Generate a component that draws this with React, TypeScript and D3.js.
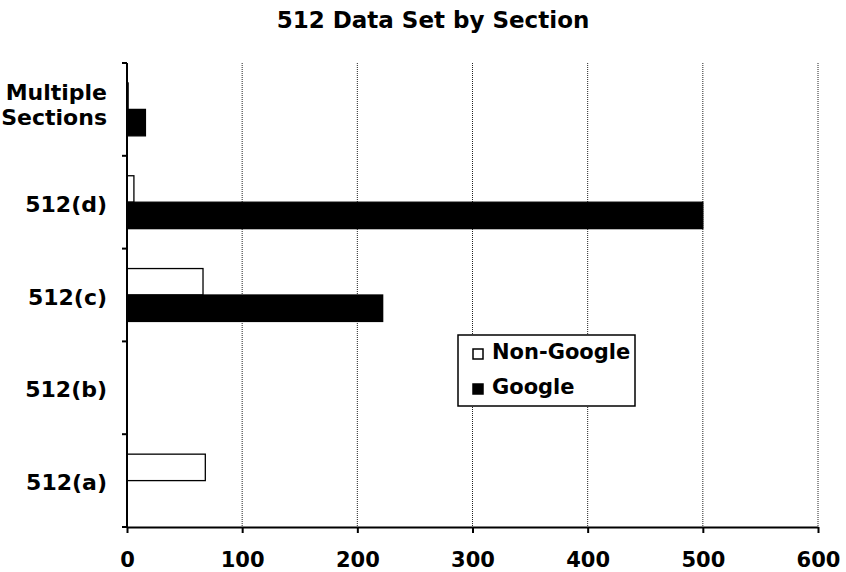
import React, { useEffect, useRef } from 'react';
import * as d3 from 'd3';

// Chart data
const categories = ['Multiple Sections', '512(d)', '512(c)', '512(b)', '512(a)'];
const categoryLines = [['Multiple', 'Sections'], ['512(d)'], ['512(c)'], ['512(b)'], ['512(a)']];
const seriesNames = ['Non-Google', 'Google'];
const nonGoogle = [1, 6, 66, 0, 68];
const google = [16, 500, 222, 0, 0];
const xTicks = [0, 100, 200, 300, 400, 500, 600];
const title = '512 Data Set by Section';

const App: React.FC = () => {
  const svgRef = useRef<SVGSVGElement | null>(null);

  useEffect(() => {
    const width = 846;
    const height = 572;
    const margin = { top: 63, right: 28, bottom: 45, left: 127 };
    const font = '"DejaVu Sans", Verdana, sans-serif';

    const svg = d3.select(svgRef.current);
    svg.selectAll('*').remove();
    svg.attr('width', width).attr('height', height);

    const x = d3.scaleLinear()
      .domain([0, 600])
      .range([margin.left, width - margin.right]);

    const y = d3.scaleBand()
      .domain(categories)
      .range([margin.top, height - margin.bottom])
      .paddingInner(0.43)
      .paddingOuter(0.215);

    const ySub = d3.scaleBand()
      .domain(seriesNames)
      .range([0, y.bandwidth()]);

    // Gridlines
    svg.append('g')
      .selectAll('line')
      .data(xTicks.slice(1))
      .enter()
      .append('line')
      .attr('x1', d => x(d))
      .attr('x2', d => x(d))
      .attr('y1', margin.top)
      .attr('y2', height - margin.bottom)
      .attr('stroke', '#222')
      .attr('stroke-width', 1)
      .attr('stroke-dasharray', '1,1');

    // Bars
    const rows = categories.map((c, i) => ({ c, values: [nonGoogle[i], google[i]] }));
    const groups = svg.append('g')
      .selectAll('g')
      .data(rows)
      .enter()
      .append('g')
      .attr('transform', d => `translate(0,${y(d.c)})`);

    groups.selectAll('rect')
      .data(d => d.values.map((v, j) => ({ v, s: seriesNames[j] })).filter(e => e.v > 0))
      .enter()
      .append('rect')
      .attr('x', x(0))
      .attr('y', d => ySub(d.s) as number)
      .attr('width', d => x(d.v) - x(0))
      .attr('height', ySub.bandwidth())
      .attr('fill', d => (d.s === 'Google' ? '#000' : '#fff'))
      .attr('stroke', '#000')
      .attr('stroke-width', 1.3);

    // X axis
    const xAxis = svg.append('g')
      .attr('transform', `translate(0,${height - margin.bottom})`)
      .call(d3.axisBottom(x).tickValues(xTicks).tickSize(6).tickSizeOuter(0));
    xAxis.select('.domain').attr('stroke', '#000').attr('stroke-width', 2);
    xAxis.selectAll('.tick line').attr('stroke', '#000').attr('stroke-width', 2);
    xAxis.selectAll('text')
      .attr('y', 40)
      .attr('dy', 0)
      .style('font-family', font)
      .style('font-weight', 'bold')
      .style('font-size', '21px')
      .attr('fill', '#000');

    // Y axis line and boundary ticks
    const yAxis = svg.append('g');
    yAxis.append('line')
      .attr('x1', x(0)).attr('x2', x(0))
      .attr('y1', margin.top).attr('y2', height - margin.bottom)
      .attr('stroke', '#000').attr('stroke-width', 2);
    const step = y.step();
    const bounds = d3.range(categories.length + 1).map(i => margin.top + i * step);
    yAxis.selectAll('line.bt')
      .data(bounds)
      .enter()
      .append('line')
      .attr('class', 'bt')
      .attr('x1', x(0) - 5).attr('x2', x(0))
      .attr('y1', d => d).attr('y2', d => d)
      .attr('stroke', '#000').attr('stroke-width', 2);

    // Y labels
    categories.forEach((c, i) => {
      const lines = categoryLines[i];
      const cy = (y(c) as number) + y.bandwidth() / 2;
      const first = cy + 9.5 - (lines.length - 1) * 19;
      lines.forEach((ln, k) => {
        svg.append('text')
          .attr('text-anchor', 'end')
          .attr('x', 107)
          .attr('y', first + k * 25)
          .style('font-family', font)
          .style('font-weight', 'bold')
          .style('font-size', '22px')
          .attr('fill', '#000')
          .text(ln);
      });
    });

    // Title
    svg.append('text')
      .attr('x', 433)
      .attr('y', 28)
      .attr('text-anchor', 'middle')
      .style('font-family', font)
      .style('font-weight', 'bold')
      .style('font-size', '23px')
      .attr('fill', '#000')
      .text(title);

    // Legend
    const legend = svg.append('g').attr('transform', 'translate(458,335)');
    legend.append('rect')
      .attr('width', 177).attr('height', 71)
      .attr('fill', '#fff').attr('stroke', '#000').attr('stroke-width', 1.5);
    seriesNames.forEach((s, i) => {
      const base = 24 + i * 35;
      legend.append('rect')
        .attr('x', 15).attr('y', base - 10)
        .attr('width', 10).attr('height', 10)
        .attr('fill', s === 'Google' ? '#000' : '#fff')
        .attr('stroke', '#000').attr('stroke-width', 1.5);
      legend.append('text')
        .attr('x', 34).attr('y', base)
        .style('font-family', font)
        .style('font-weight', 'bold')
        .style('font-size', '21px')
        .attr('fill', '#000')
        .text(s);
    });
  }, []);

  return (
    <svg ref={svgRef} style={{ position: 'absolute', left: 0, top: 0, background: '#fff' }}></svg>
  );
};

export default App;
